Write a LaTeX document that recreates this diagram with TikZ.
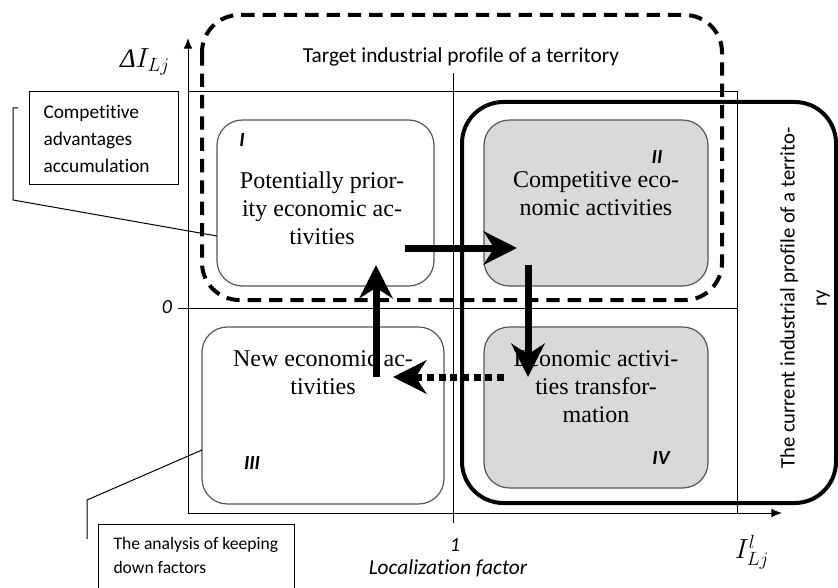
\documentclass[tikz,border=0pt]{standalone}
\usepackage{fontspec}
\setmainfont{Liberation Serif}
\newfontfamily\calfont[Ligatures={NoCommon}]{Carlito}
\usetikzlibrary{arrows.meta}

\definecolor{boxgray}{RGB}{217,217,217}
\definecolor{edgegray}{RGB}{85,85,85}

\tikzset{every picture/.style={line width=0.75pt}}
\tikzset{
  quad/.style={draw=edgegray, line width=0.9pt, rounded corners=19pt},
  quadgray/.style={quad, fill=boxgray},
  quadtext/.style={align=center, inner sep=0.75pt, font=\fontsize{18}{21}\selectfont},
  numeral/.style={inner sep=0.75pt, font=\calfont\bfseries\itshape\fontsize{15}{18}\selectfont},
  flow/.style={line width=5.25pt, -{Stealth[length=25pt,width=25pt,inset=8pt]}},
  axis/.style={line width=0.75pt, -{Latex[length=8pt,width=6.5pt]}},
}

\begin{document}
\begin{tikzpicture}[x=0.75pt,y=0.75pt,yscale=-1,xscale=1]
\useasboundingbox (0,0) rectangle (838,588);

%Shape: Axis 2D
\coordinate (orig) at (188,513);
\coordinate (ytop) at (188,38);
\coordinate (xend) at (782,513);
\draw[axis] (orig) -- (ytop);
\draw[axis] (orig) -- (xend);
%Frame and quadrant lines
\draw (188,92) -- (737,92) -- (737,513);
\draw (178,308) -- (737,308);
\draw (453,73) -- (453,523);

%Rounded Rect: target profile
\draw[line width=3pt, dash pattern=on 10pt off 6pt, rounded corners=28pt] (202,15) rectangle (722,300);
%Rounded Rect: current profile
\draw[line width=3pt, rounded corners=31pt] (462,102) rectangle (836,503);

%Rounded Rect: quadrants
\draw[quad] (217,120) rectangle (434,286);
\draw[quadgray] (484,120) rectangle (708,286);
\draw[quad] (202,327) rectangle (444,504);
\draw[quadgray] (484,327) rectangle (708,488);

% Text Node
\node (prior) [quadtext] at (322,208) {Potentially prior-\\ity economic ac-\\tivities};
% Text Node
\node (compet) [quadtext] at (596,194) {Competitive eco-\\nomic activities};
% Text Node
\node (newact) [quadtext] at (323,373) {New economic ac-\\tivities};
% Text Node
\node (transf) [quadtext] at (596,387) {Economic activi-\\ties transfor-\\mation};

% Text Node
\node (numI) [numeral] at (242,140) {I};
\node (numII) [numeral] at (657,157) {II};
\node (numIII) [numeral] at (252,463) {III};
\node (numIV) [numeral] at (661,458) {IV};

% Text Node
\node (target) [inner sep=0.75pt, font=\calfont\fontsize{16}{19}\selectfont] at (461,57) {Target industrial profile of a territory};
% Text Node
\node (current) [rotate=90, align=center, inner sep=0.75pt, font=\calfont\fontsize{15.5}{24}\selectfont] at (805,298) {The current industrial profile of a territo-\\ry};

% Text Node
\node (ylabel) [inner sep=0.75pt, font=\fontsize{20}{24}\selectfont] at (145,62) {\textit{Δ}$I_{Lj}$};
% Text Node
\node (xlabel) [inner sep=0.75pt, font=\fontsize{20}{24}\selectfont] at (752,552) {$I^{l}_{Lj}$};
% Text Node
\node (zero) [inner sep=0.75pt, font=\calfont\itshape\fontsize{15}{18}\selectfont] at (167,307) {0};
% Text Node
\node (one) [inner sep=0.75pt, font=\calfont\itshape\fontsize{15}{18}\selectfont] at (455,545) {1};
% Text Node
\node (locfac) [inner sep=0.75pt, font=\calfont\itshape\fontsize{16}{19}\selectfont] at (448,568) {Localization factor};

%Callout: accumulation
\draw (29,92) rectangle (178,184);
\node (accum) [anchor=west, align=left, inner sep=0.75pt, font=\calfont\fontsize{14.5}{20}\selectfont] at (42,139) {Competitive\\advantages\\accumulation};
\coordinate (accumA) at (18,108);
\coordinate (accumB) at (13,108);
\coordinate (accumC) at (13,200);
\coordinate (accumD) at (217,236);
\draw (accumA) -- (accumB) -- (accumC) -- (accumD);

%Callout: keeping down factors
\draw (98,524) rectangle (294,598);
\node (keeping) [anchor=west, align=left, inner sep=0.75pt, font=\calfont\fontsize{13.2}{18}\selectfont] at (112,555) {The analysis of keeping\\down factors};
\coordinate (keepA) at (87,539);
\coordinate (keepB) at (87,500);
\coordinate (keepC) at (202,450);
\draw (keepA) -- (keepB) -- (keepC);

%Flow arrows
\coordinate (fromI) at (405,248);
\coordinate (toII) at (517,248);
\coordinate (fromII) at (528,265);
\coordinate (toIV) at (528,377);
\coordinate (fromIV) at (504,377);
\coordinate (toIII) at (393,377);
\coordinate (fromIII) at (376,377);
\coordinate (toI) at (376,265);
\draw[flow] (fromI) -- (toII);
\draw[flow] (fromII) -- (toIV);
\draw[flow, dash pattern=on 5.25pt off 3.5pt] (fromIV) -- (toIII);
\draw[flow] (fromIII) -- (toI);

\end{tikzpicture}
\end{document}
